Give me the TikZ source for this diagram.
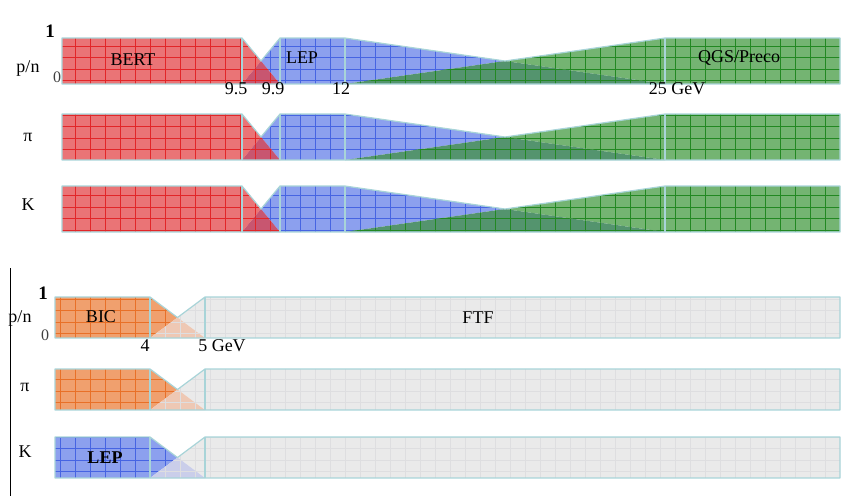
\documentclass[tikz,border=0pt]{standalone}
\usepackage{fontspec}
\setmainfont{Liberation Serif}

\definecolor{bertfill}{RGB}{234,116,118}
\definecolor{bertgrid}{RGB}{226,38,40}
\definecolor{lepfill}{RGB}{140,160,238}
\definecolor{lepgrid}{RGB}{70,100,226}
\definecolor{qgsfill}{RGB}{116,180,114}
\definecolor{qgsgrid}{RGB}{34,136,34}
\definecolor{bicfill}{RGB}{240,160,110}
\definecolor{bicgrid}{RGB}{232,112,40}
\definecolor{ftffill}{RGB}{234,234,234}
\definecolor{ftfgrid}{RGB}{222,222,224}
\definecolor{mixbl}{RGB}{200,86,112}
\definecolor{mixlq}{RGB}{84,148,110}
\definecolor{mixbf}{RGB}{238,200,180}
\definecolor{mixlf}{RGB}{202,206,234}
\definecolor{bandedge}{RGB}{168,212,216}

\tikzset{
    band/.style 2 args = {fill = #1,
        path picture = {\draw[#2, line width = 0.9pt]
            (path picture bounding box.south west) grid[xstep = 15pt, ystep = 11.5pt]
            (path picture bounding box.north east);}},
    rim/.style = {draw = bandedge, line width = 1.2pt, line join = round},
    lab/.style = {font = \fontsize{18}{20}\selectfont, inner sep = 0pt},
    axis0/.style = {font = \fontsize{16}{18}\selectfont, inner sep = 0pt, text = black!75},
    axis1/.style = {font = \fontsize{19}{20}\selectfont\bfseries, inner sep = 0pt}
}

\begin{document}
\begin{tikzpicture}[x = 1pt, y = -1pt]
    \useasboundingbox (0,0) rectangle (844,496);

    % upper panel: BERT -> LEP -> QGS/Preco
    \foreach \y in {38,114,186} {
        \pgfmathsetmacro\b{\y+46}
        \pgfmathsetmacro\m{\y+23}
        \path[band = {bertfill}{bertgrid}] (62,\y) rectangle (242,\b);
        \path[band = {bertfill}{bertgrid}] (242,\y) -- (261,\m) -- (242,\b) -- cycle;
        \path[band = {lepfill}{lepgrid}] (280,\y) -- (280,\b) -- (261,\m) -- cycle;
        \path[band = {mixbl}{bertgrid}] (242,\b) -- (280,\b) -- (261,\m) -- cycle;
        \path[band = {lepfill}{lepgrid}] (280,\y) rectangle (345,\b);
        \path[band = {lepfill}{lepgrid}] (345,\y) -- (505,\m) -- (345,\b) -- cycle;
        \path[band = {qgsfill}{qgsgrid}] (665,\y) -- (665,\b) -- (505,\m) -- cycle;
        \path[band = {mixlq}{qgsgrid}] (345,\b) -- (665,\b) -- (505,\m) -- cycle;
        \path[band = {qgsfill}{qgsgrid}] (665,\y) rectangle (840,\b);
        \draw[rim] (62,\y) -- (242,\y) -- (261,\m) -- (280,\y) -- (345,\y) -- (505,\m)
            -- (665,\y) -- (840,\y) -- (840,\b) -- (62,\b) -- cycle;
        \draw[rim] (242,\y) -- (242,\b) (280,\y) -- (280,\b) (345,\y) -- (345,\b) (665,\y) -- (665,\b);
    }

    \node[axis1] (up1) at (50,31) {1};
    \node[lab] (uppn) at (28,68) {p/n};
    \node[axis0] (up0) at (57,77) {0};
    \node[lab] (uppi) at (28,137) {π};
    \node[lab] (upk) at (28,205) {K};
    \node[lab] (bert) at (133,60) {BERT};
    \node[lab] (lepup) at (302,58) {LEP};
    \node[lab] (qgsp) at (739,58) {QGS/Preco};
    \node[lab] (e95) at (236,89) {9.5};
    \node[lab] (e99) at (273,89) {9.9};
    \node[lab] (e12) at (341,89) {12};
    \node[lab] (e25) at (677,89) {25 GeV};

    % lower panel: BIC/LEP -> FTF
    \draw[line width = 1pt] (10,268) -- (10,496);
    \foreach \y/\fc/\gc/\mc in {297/bicfill/bicgrid/mixbf, 369/bicfill/bicgrid/mixbf, 437/lepfill/lepgrid/mixlf} {
        \pgfmathsetmacro\b{\y+41}
        \pgfmathsetmacro\m{\y+20.5}
        \path[band = {\fc}{\gc}] (55,\y) rectangle (150,\b);
        \path[band = {\fc}{\gc}] (150,\y) -- (177.5,\m) -- (150,\b) -- cycle;
        \path[band = {ftffill}{ftfgrid}] (205,\y) -- (205,\b) -- (177.5,\m) -- cycle;
        \path[band = {\mc}{ftfgrid}] (150,\b) -- (205,\b) -- (177.5,\m) -- cycle;
        \path[band = {ftffill}{ftfgrid}] (205,\y) rectangle (840,\b);
        \draw[rim] (55,\y) -- (150,\y) -- (177.5,\m) -- (205,\y) -- (840,\y) -- (840,\b) -- (55,\b) -- cycle;
        \draw[rim] (150,\y) -- (150,\b) (205,\y) -- (205,\b);
    }

    \node[axis1] (lo1) at (43,293) {1};
    \node[lab] (lopn) at (20,318) {p/n};
    \node[axis0] (lo0) at (45,335) {0};
    \node[lab] (lopi) at (25,387) {π};
    \node[lab] (lok) at (25,452) {K};
    \node[lab] (bic) at (101,317) {BIC};
    \node[lab] (ftf) at (478,318) {FTF};
    \node[lab, font = \fontsize{18}{20}\selectfont\bfseries] (leplo) at (105,458) {LEP};
    \node[lab] (e4) at (145,346) {4};
    \node[lab] (e5) at (222,346) {5 GeV};
\end{tikzpicture}
\end{document}
